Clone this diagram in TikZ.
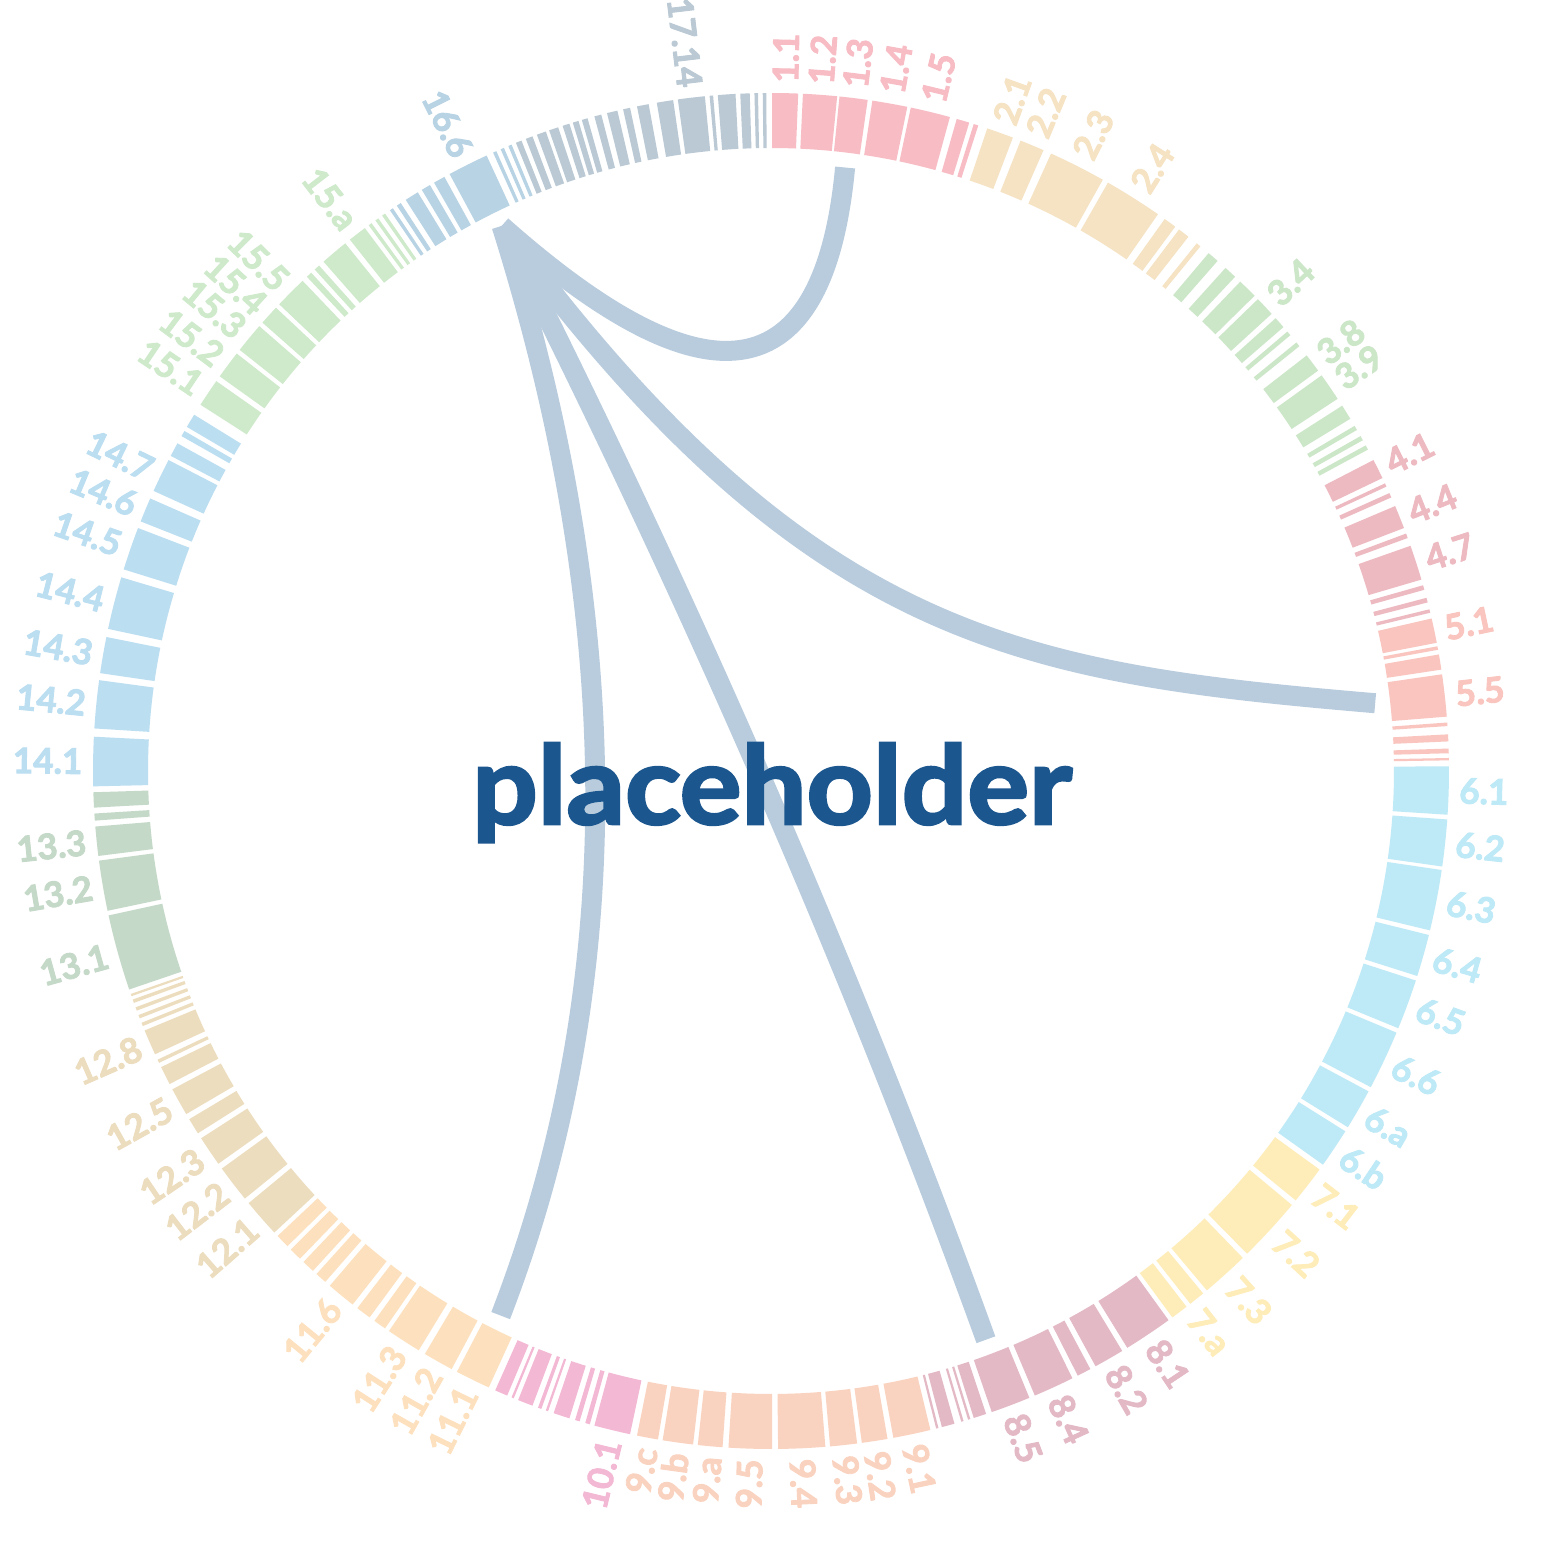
\documentclass[tikz,border=0pt]{standalone}
\usepackage{fontspec}
\setmainfont{Lato}[BoldFeatures={FakeBold=2.5}]
\definecolor{chrA}{HTML}{F7BCC4}
\definecolor{chrB}{HTML}{F5E3C3}
\definecolor{chrC}{HTML}{CCE6C8}
\definecolor{chrD}{HTML}{EDBAC1}
\definecolor{chrE}{HTML}{F9C5BE}
\definecolor{chrF}{HTML}{BEE9F6}
\definecolor{chrG}{HTML}{FEEDB9}
\definecolor{chrH}{HTML}{E3B9C6}
\definecolor{chrI}{HTML}{FAD3C0}
\definecolor{chrJ}{HTML}{F3B8D3}
\definecolor{chrK}{HTML}{FDE1BF}
\definecolor{chrL}{HTML}{EDDDBF}
\definecolor{chrM}{HTML}{C5D9C8}
\definecolor{chrN}{HTML}{BCDEF1}
\definecolor{chrO}{HTML}{CEEACB}
\definecolor{chrP}{HTML}{B8D3E4}
\definecolor{chrQ}{HTML}{BAC9D4}
\definecolor{chordcol}{HTML}{B9CCDE}
\definecolor{titlecol}{HTML}{1B578E}
\newcommand\arcseg[3]{\fill[#3] (#1:623) arc[start angle=#1,end angle=#2,radius=623]
  -- (#2:678) arc[start angle=#2,end angle=#1,radius=678] -- cycle;}
\tikzset{
  chordline/.style={draw=chordcol,line width=2mm},
  lbl/.style={font=\bfseries\fontsize{10}{12}\selectfont,inner sep=0pt},
}

\begin{document}
\begin{tikzpicture}[x=0.1mm,y=0.1mm]
  \fill[white] (-771,-770) rectangle (770,771);
  \useasboundingbox (-771,-770) rectangle (770,771);
  \foreach \a/\b in {89.9/87.7,87.3/84.4,84.2/81.8,81.4/78.4,78.1/74.7,74.1/73.0,72.6/72.2}
    {\arcseg{\a}{\b}{chrA}}
  \foreach \a/\b in {71.4/69.1,68.4/66.3,65.6/60.7,60.2/55.2,54.5/53.4,53.0/52.0,51.1/50.7}
    {\arcseg{\a}{\b}{chrB}}
  \foreach \a/\b in {49.8/48.8,47.9/46.8,46.2/44.5,44.1/42.4,41.9/40.9,40.4/40.0,39.2/38.8,
      37.8/36.2,35.7/33.3,32.6/31.3,30.6/30.2,29.6/29.2,28.7/28.3}
    {\arcseg{\a}{\b}{chrC}}
  \foreach \a/\b in {27.3/25.6,25.1/24.8,24.2/23.8,23.0/21.0,20.5/20.1,19.4/16.4,15.9/15.5,
      14.8/14.4,13.8/13.5}
    {\arcseg{\a}{\b}{chrD}}
  \foreach \a/\b in {13.0/10.9,10.6/10.3,9.9/8.6,8.2/4.6,4.1/3.8,3.1/2.5,1.9/1.5,1.1/0.9}
    {\arcseg{\a}{\b}{chrE}}
  \foreach \a/\b in {0.4/-3.7,-4.1/-8.1,-8.4/-13.6,-14.0/-17.6,-18.0/-22.3,-22.7/-27.8,
      -28.2/-31.7,-32.1/-35.5}
    {\arcseg{\a}{\b}{chrF}}
  \foreach \a/\b in {-36.0/-39.3,-39.8/-45.4,-45.9/-50.0,-50.4/-51.8,-52.2/-53.7}
    {\arcseg{\a}{\b}{chrG}}
  \foreach \a/\b in {-54.1/-58.3,-58.8/-61.4,-61.9/-63.1,-63.6/-67.1,-67.6/-71.0,-71.5/-72.6,
      -72.9/-73.1,-73.5/-73.7,-74.3/-75.4,-75.7/-75.9}
    {\arcseg{\a}{\b}{chrH}}
  \foreach \a/\b in {-76.4/-79.6,-80.1/-82.3,-82.7/-85.0,-85.4/-89.4,-89.9/-93.6,-94.1/-96.2,
      -96.6/-99.2,-99.6/-101.4}
    {\arcseg{\a}{\b}{chrI}}
  \foreach \a/\b in {-102.0/-105.1,-105.5/-105.9,-106.4/-106.8,-107.3/-108.7,-109.2/-109.4,
      -109.8/-110.1,-110.6/-111.9,-112.3/-112.5,-112.9/-114.0}
    {\arcseg{\a}{\b}{chrJ}}
  \foreach \a/\b in {-114.6/-117.6,-118.1/-120.7,-121.3/-124.3,-124.7/-125.8,-126.3/-127.6,
      -128.1/-130.6,-131.1/-132.1,-132.5/-133.6,-134.0/-135.1,-135.5/-136.7}
    {\arcseg{\a}{\b}{chrK}}
  \foreach \a/\b in {-137.1/-140.4,-140.9/-144.1,-144.6/-147.2,-147.7/-149.1,-149.6/-152.0,
      -152.5/-154.1,-154.5/-154.8,-155.3/-157.5,-157.9/-158.2,-158.6/-158.9,-159.3/-159.6,
      -160.0/-160.3,-160.6/-160.8}
    {\arcseg{\a}{\b}{chrL}}
  \foreach \a/\b in {-161.2/-167.7,-168.1/-172.4,-172.8/-175.3,-175.8/-176.4,-176.9/-178.2}
    {\arcseg{\a}{\b}{chrM}}
  \foreach \a/\b in {-178.7/-182.9,-183.6/-187.7,-188.3/-191.4,-192.1/-196.6,-197.3/-201.0,
      -201.6/-203.7,-204.4/-207.3,-207.7/-208.9,-209.6/-210.1,-210.5/-211.7}
    {\arcseg{\a}{\b}{chrN}}
  \foreach \a/\b in {-212.7/-215.1,-215.6/-218.0,-218.4/-221.0,-221.4/-223.1,-223.5/-226.3,
      -226.8/-227.3,-227.7/-228.2,-228.7/-231.1,-231.6/-233.2,-233.6/-233.9,-234.3/-234.6,
      -235.0/-235.3}
    {\arcseg{\a}{\b}{chrO}}
  \foreach \a/\b in {124.2/123.9,123.5/123.1,122.6/121.4,121.0/120.2,119.8/118.8,118.3/114.8,
      114.2/113.9,113.5/113.2,112.8/112.5}
    {\arcseg{\a}{\b}{chrP}}
  \foreach \a/\b in {112.1/111.6,111.2/110.6,110.2/109.4,109.1/108.3,107.9/107.3,107.0/106.5,
      106.2/105.7,105.1/104.5,104.0/103.1,102.6/102.0,101.4/100.4,99.7/98.3,97.9/95.6,
      95.2/94.9,94.5/93.0,92.6/91.8,91.4/91.1,90.7/90.4}
    {\arcseg{\a}{\b}{chrQ}}

  \foreach \ang/\txt/\col [count=\i] in {
      88.8/1.1/chrA,85.85/1.2/chrA,83.0/1.3/chrA,79.9/1.4/chrA,76.4/1.5/chrA,
      70.25/2.1/chrB,67.35/2.2/chrB,63.15/2.3/chrB,57.7/2.4/chrB,
      43.25/3.4/chrC,37.0/3.8/chrC,34.5/3.9/chrC,
      26.45/4.1/chrD,22.0/4.4/chrD,17.9/4.7/chrD,
      11.95/5.1/chrE,6.4/5.5/chrE,
      -1.65/6.1/chrF,-6.1/6.2/chrF,-11.0/6.3/chrF,-15.8/6.4/chrF,-20.15/6.5/chrF,
      -25.25/6.6/chrF,-29.95/6.a/chrF,-33.8/6.b/chrF,
      -37.65/7.1/chrG,-42.6/7.2/chrG,-47.95/7.3/chrG,-52.0/7.a/chrG,
      -56.2/8.1/chrH,-60.1/8.2/chrH,-65.35/8.4/chrH,-69.3/8.5/chrH,
      -78.0/9.1/chrI,-81.2/9.2/chrI,-83.85/9.3/chrI,-87.4/9.4/chrI,-91.75/9.5/chrI,
      -95.15/9.a/chrI,-97.9/9.b/chrI,-100.5/9.c/chrI,
      -103.55/10.1/chrJ,
      -116.1/11.1/chrK,-119.4/11.2/chrK,-122.8/11.3/chrK,-129.35/11.6/chrK,
      -138.75/12.1/chrL,-142.5/12.2/chrL,-145.9/12.3/chrL,-150.8/12.5/chrL,-156.4/12.8/chrL,
      -164.45/13.1/chrM,-170.25/13.2/chrM,-174.05/13.3/chrM,
      -180.8/14.1/chrN,-185.65/14.2/chrN,-189.85/14.3/chrN,-194.35/14.4/chrN,
      -199.15/14.5/chrN,-202.65/14.6/chrN,-205.85/14.7/chrN,
      -213.9/15.1/chrO,-216.8/15.2/chrO,-219.7/15.3/chrO,-222.25/15.4/chrO,-224.9/15.5/chrO,
      -232.4/15.a/chrO,
      116.55/16.6/chrP,
      96.75/17.14/chrQ}{
    \pgfmathtruncatemacro\flip{(\ang>90 || \ang<-90) ? 1 : 0}
    \ifnum\flip=1
      \node[lbl,text=\col,anchor=east,rotate=\ang+180] (lbl\i) at (\ang:688) {\txt};
    \else
      \node[lbl,text=\col,anchor=west,rotate=\ang] (lbl\i) at (\ang:688) {\txt};
    \fi
  }

  \coordinate (s16) at (116.3:608);
  \coordinate (e1) at (83:608);
  \coordinate (e5) at (6.4:608);
  \coordinate (e8) at (-69.3:608);
  \coordinate (e11) at (-116.4:608);
  \draw[chordline] (s16) .. controls (-126.5,418.6) and (47.5,319.7) .. (e1);
  \draw[chordline] (s16) .. controls (37,130) and (250,98) .. (e5);
  \draw[chordline] (s16) .. controls (-80.3,171.3) and (81.7,-201.3) .. (e8);
  \draw[chordline] (s16) .. controls (-143.7,144.7) and (-145,-220) .. (e11);

  \node[font=\bfseries\fontsize{31}{37}\selectfont,text=titlecol,anchor=base,inner sep=0pt,
    xscale=1.06] (title) at (1,-53) {placeholder};
\end{tikzpicture}
\end{document}
